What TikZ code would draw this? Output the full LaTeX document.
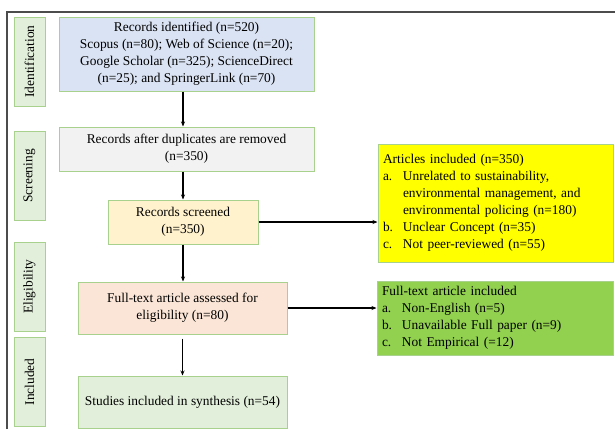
\documentclass[tikz,border=0pt]{standalone}
\usepackage{fontspec}
\setmainfont{Liberation Serif}
\usetikzlibrary{positioning, arrows.meta}

\definecolor{edgegreen}{HTML}{A9D18E}
\definecolor{idblue}{HTML}{DAE3F3}
\definecolor{dupgray}{HTML}{F2F2F2}
\definecolor{scrcream}{HTML}{FFF2CC}
\definecolor{fullpink}{HTML}{FBE5D6}
\definecolor{inclgreen}{HTML}{E2EFDA}
\definecolor{exclyellow}{HTML}{FFFF00}
\definecolor{exclgreen}{HTML}{92D050}

\newcommand{\lbl}[1]{\makebox[20pt][l]{#1}}

\begin{document}
\begin{tikzpicture}[
    x=1pt, y=-1pt,
    >=Stealth,
    font=\fontsize{13.4}{17}\selectfont,
    box/.style={rectangle, draw=edgegreen, line width=1pt,
                inner xsep=3pt, inner ysep=2pt, align=center},
    excl/.style={box, align=left, anchor=west, inner xsep=5pt},
    phase/.style={rectangle, draw=edgegreen, line width=1pt, fill=inclgreen,
                  rotate=90, minimum width=89pt, minimum height=31pt,
                  inner sep=1pt},
    arrow/.style={->, line width=1.1pt, >={Stealth[length=5pt, width=4pt]}}
]
  \useasboundingbox (0,0) rectangle (615,429);
  % frame
  \draw[line width=1.3pt, black!70] (7,429) -- (7,12) -- (615,12);

  % phases
  \node[phase] (ident) at (29.5,61.5) {Identification};
  \node[phase] (screen) at (29.5,176) {Screening};
  \node[phase] (elig) at (29.5,286.5) {Eligibility};
  \node[phase] (incl) at (29.5,382) {Included};

  % main column
  \node[box, fill=idblue, minimum width=255pt, minimum height=74pt] (id) at (186.5,54)
    {Records identified (n=520)\\Scopus (n=80); Web of Science (n=20);\\
     Google Scholar (n=325); ScienceDirect\\(n=25); and SpringerLink (n=70)};
  \node[box, fill=dupgray, minimum width=255pt, minimum height=44pt,
        below=35pt of id] (dup) {Records after duplicates are removed\\(n=350)};
  \node[box, fill=scrcream, minimum width=150pt, minimum height=44pt,
        below=28pt of dup, xshift=-3.5pt] (scr) {Records screened\\(n=350)};
  \node[box, fill=fullpink, minimum width=209pt, minimum height=52pt,
        below=37pt of scr, xshift=-0.5pt] (full) {Full-text article assessed for\\eligibility (n=80)};
  \node[box, fill=inclgreen, minimum width=209pt, minimum height=52pt,
        below=41pt of full] (synth) {Studies included in synthesis (n=54)};

  % exclusions
  \node[excl, fill=exclyellow, text width=225pt, minimum height=118pt,
        right=119pt of scr, yshift=19pt] (artexcl)
    {Articles included (n=350)\\
     \lbl{a.}Unrelated to sustainability,\\
     \lbl{}environmental management, and\\
     \lbl{}environmental policing (n=180)\\
     \lbl{b.}Unclear Concept (n=35)\\
     \lbl{c.}Not peer-reviewed (n=55)};
  \node[excl, fill=exclgreen, text width=226pt, minimum height=74pt,
        right=89pt of full, yshift=-10pt] (fullexcl)
    {Full-text article included\\
     \lbl{a.}Non-English (n=5)\\
     \lbl{b.}Unavailable Full paper (n=9)\\
     \lbl{c.}Not Empirical (=12)};

  \draw[arrow] (id.south -| scr) -- (dup.north -| scr);
  \draw[arrow] (dup.south -| scr) -- (scr.north);
  \draw[arrow] (scr.south) -- (full.north -| scr);
  \draw[arrow, shorten <=4pt] (full.south) -- (synth.north);
  \draw[arrow] (scr.east) -- (scr.east -| artexcl.west);
  \draw[arrow] (full.east) -- (full.east -| fullexcl.west);
\end{tikzpicture}
\end{document}
